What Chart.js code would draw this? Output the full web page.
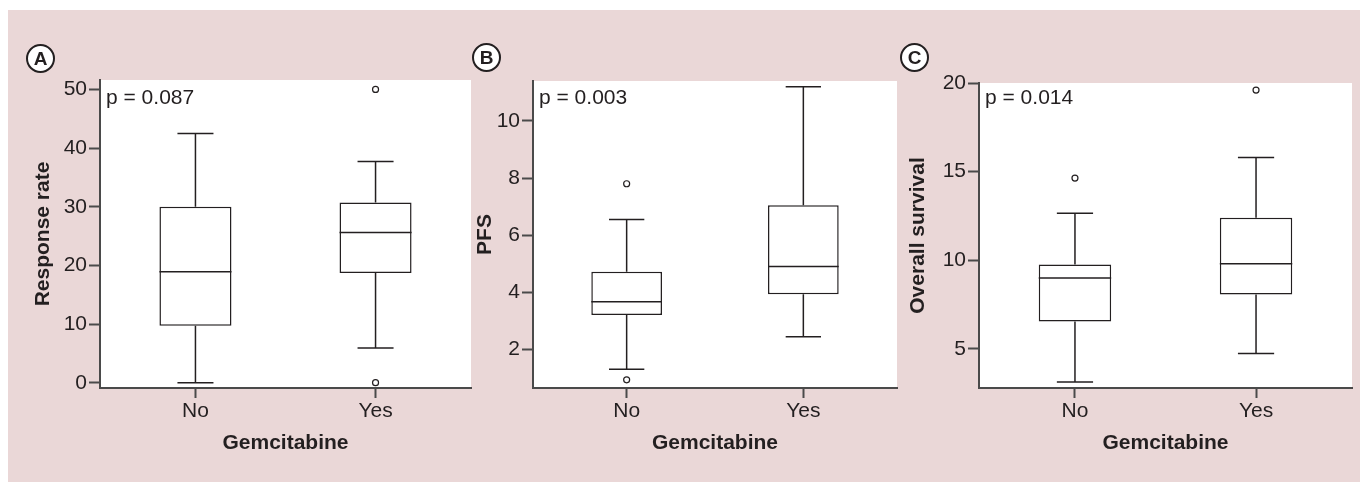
<!DOCTYPE html>
<html>
<head>
<title>Gemcitabine box plots</title>
<script src="https://cdn.jsdelivr.net/npm/chart.js"></script>
<style>
  body { margin: 0; width: 1360px; height: 482px; background: #fff; position: relative; overflow: hidden;
         font-family: "Liberation Sans", Arial, sans-serif; }
  #bg { position: absolute; left: 8px; top: 10px; right: 0; bottom: 0; background: #ead7d7; }
  canvas { position: absolute; top: 0; }
  .tag { position: absolute; width: 25px; height: 25px; border: 2px solid #231f20; border-radius: 50%;
         background: #fff; color: #231f20; font-weight: bold; font-size: 19px; line-height: 26px; text-align: center; }
</style>
</head>
<body>
<div id="bg"></div>
<canvas id="chartA" width="480" height="482" style="left:0px"></canvas>
<canvas id="chartB" width="440" height="482" style="left:470px"></canvas>
<canvas id="chartC" width="460" height="482" style="left:900px"></canvas>
<div class="tag" style="left:26px;top:44px">A</div>
<div class="tag" style="left:472px;top:43px">B</div>
<div class="tag" style="left:900px;top:43px">C</div>

<script>
// data
const categories = ['No', 'Yes'];

// A: response rate
const rrMin = [0, 5.9];
const rrQ1 = [9.7, 18.7];
const rrMed = [18.9, 25.6];
const rrQ3 = [30.0, 30.7];
const rrMax = [42.5, 37.7];
const rrOut = [[], [50, 0]];

// B: PFS
const pfsMin = [1.3, 2.44];
const pfsQ1 = [3.2, 3.93];
const pfsMed = [3.67, 4.9];
const pfsQ3 = [4.72, 7.05];
const pfsMax = [6.55, 11.2];
const pfsOut = [[7.8, 0.93], []];

// C: overall survival
const osMin = [3.14, 4.74];
const osQ1 = [6.55, 8.07];
const osMed = [9.0, 9.8];
const osQ3 = [9.76, 12.4];
const osMax = [12.65, 15.8];
const osOut = [[14.64], [19.6]];

const ink = '#231f20';
const axisCol = '#4a4a4a';
const FONT = '"Liberation Sans", Arial, sans-serif';
const H = 482;

const whiteArea = {
  id: 'whiteArea',
  beforeDraw(chart) {
    const a = chart.chartArea;
    chart.ctx.save();
    chart.ctx.fillStyle = '#fff';
    chart.ctx.fillRect(a.left, a.top, a.right - a.left, a.bottom - a.top);
    chart.ctx.restore();
  }
};

function makePanel(id, p) {
  // whiskers, median lines and p-value label drawn through the chart's scales
  const boxLines = {
    id: 'boxLines',
    afterDatasetsDraw(chart) {
      const ctx = chart.ctx;
      const y = chart.scales.y;
      const bars = chart.getDatasetMeta(0).data;
      ctx.save();
      ctx.strokeStyle = ink;
      ctx.lineWidth = 1.5;
      bars.forEach((bar, i) => {
        const half = bar.width / 2;
        const cap = bar.width / 4;
        const x = bar.x;
        ctx.beginPath();
        ctx.moveTo(x - half, y.getPixelForValue(p.med[i]));
        ctx.lineTo(x + half, y.getPixelForValue(p.med[i]));
        ctx.moveTo(x, y.getPixelForValue(p.q3[i]));
        ctx.lineTo(x, y.getPixelForValue(p.max[i]));
        ctx.moveTo(x - cap, y.getPixelForValue(p.max[i]));
        ctx.lineTo(x + cap, y.getPixelForValue(p.max[i]));
        ctx.moveTo(x, y.getPixelForValue(p.q1[i]));
        ctx.lineTo(x, y.getPixelForValue(p.min[i]));
        ctx.moveTo(x - cap, y.getPixelForValue(p.min[i]));
        ctx.lineTo(x + cap, y.getPixelForValue(p.min[i]));
        ctx.stroke();
      });
      ctx.fillStyle = ink;
      ctx.font = '21px ' + FONT;
      ctx.textBaseline = 'alphabetic';
      ctx.fillText(p.pText, chart.chartArea.left + 6, 104);
      ctx.restore();
    }
  };

  const outliers = [];
  p.out.forEach((vals, i) => vals.forEach(v => outliers.push({ x: i, y: v })));

  new Chart(document.getElementById(id), {
    type: 'bar',
    data: {
      datasets: [
        {
          type: 'bar',
          data: categories.map((c, i) => ({ x: i, y: [p.q1[i], p.q3[i]] })),
          backgroundColor: '#fff',
          borderColor: ink,
          borderWidth: 1.5,
          borderSkipped: false,
          categoryPercentage: 1,
          barPercentage: 0.4
        },
        {
          type: 'scatter',
          data: outliers,
          pointRadius: 3,
          pointBackgroundColor: '#fff',
          pointBorderColor: ink,
          pointBorderWidth: 1.2
        }
      ]
    },
    options: {
      responsive: false,
      animation: false,
      layout: { padding: { left: 0, top: p.chartTop, right: p.width - (p.chartRight - p.left), bottom: 0 } },
      plugins: { legend: { display: false }, tooltip: { enabled: false } },
      scales: {
        x: {
          type: 'linear',
          min: -0.53,
          max: 1.53,
          offset: false,
          afterFit(s) { s.height = H - p.chartBottom; },
          ticks: {
            stepSize: 1, includeBounds: false, autoSkip: false, maxRotation: 0,
            callback: v => categories[v] !== undefined ? categories[v] : '',
            color: ink, font: { family: FONT, size: 21 }, padding: 1
          },
          grid: { drawOnChartArea: false, offset: false, tickLength: 10, tickColor: axisCol, tickWidth: 2 },
          border: { color: axisCol, width: 2 },
          title: { display: true, text: 'Gemcitabine', color: ink,
                   font: { family: FONT, size: 21, weight: 'bold' }, padding: { bottom: 26.4 } }
        },
        y: {
          min: p.yMin,
          max: p.yMax,
          afterFit(s) { s.width = p.chartLeft - p.left; },
          ticks: { stepSize: p.step, includeBounds: false, color: ink, font: { family: FONT, size: 21 }, padding: 2 },
          grid: { drawOnChartArea: false, tickLength: 11, tickColor: axisCol, tickWidth: 2 },
          border: { color: axisCol, width: 2 },
          title: { display: true, text: p.yTitle, color: ink,
                   font: { family: FONT, size: 21, weight: 'bold' }, padding: { top: p.yTitleX - p.left - 12.6 } }
        }
      }
    },
    plugins: [whiteArea, boxLines]
  });
}

makePanel('chartA', {
  left: 0, width: 480, chartLeft: 100, chartTop: 80, chartRight: 471, chartBottom: 388,
  yMin: -0.9, yMax: 51.6, step: 10, yTitle: 'Response rate', yTitleX: 43, pText: 'p = 0.087',
  min: rrMin, q1: rrQ1, med: rrMed, q3: rrQ3, max: rrMax, out: rrOut
});
makePanel('chartB', {
  left: 470, width: 440, chartLeft: 533, chartTop: 81, chartRight: 897, chartBottom: 388,
  yMin: 0.645, yMax: 11.4, step: 2, yTitle: 'PFS', yTitleX: 485, pText: 'p = 0.003',
  min: pfsMin, q1: pfsQ1, med: pfsMed, q3: pfsQ3, max: pfsMax, out: pfsOut
});
makePanel('chartC', {
  left: 900, width: 460, chartLeft: 979, chartTop: 83, chartRight: 1352, chartBottom: 388,
  yMin: 2.8, yMax: 20, step: 5, yTitle: 'Overall survival', yTitleX: 918, pText: 'p = 0.014',
  min: osMin, q1: osQ1, med: osMed, q3: osQ3, max: osMax, out: osOut
});
</script>
</body>
</html>
